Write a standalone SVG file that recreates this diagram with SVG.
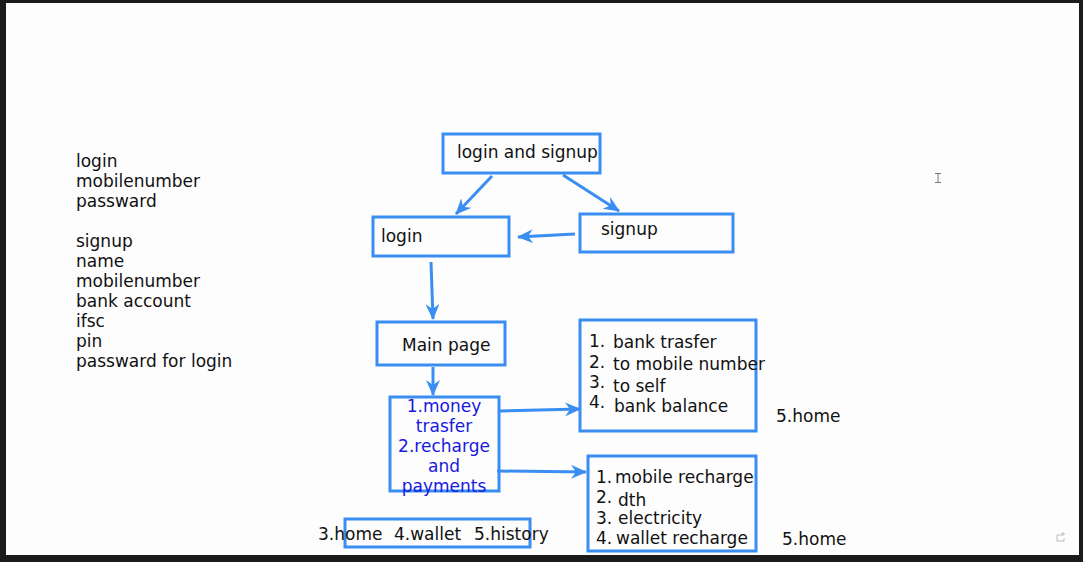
<svg xmlns="http://www.w3.org/2000/svg" width="1083" height="562" viewBox="0 0 1083 562">
<style>
.box{fill:none;stroke:#3a8ef2;stroke-width:3}
.edge{fill:none;stroke:#3a8ef2;stroke-width:3}
text{font-family:"DejaVu Sans","Liberation Sans",sans-serif;font-size:17px;fill:#111}
.blue{fill:#1818e0;text-anchor:middle}
</style>
<defs>
<marker id="arr" viewBox="0 0 16 14" markerWidth="16" markerHeight="14" refX="15" refY="7" orient="auto" markerUnits="userSpaceOnUse">
<path d="M0,0 L16,7 L0,14 L5,7 z" fill="#3a8ef2"/>
</marker>
</defs>
<rect x="0" y="0" width="1083" height="562" fill="#1b1b1b"/>
<rect x="6" y="3" width="1073" height="552" fill="#fdfdfd"/>

<g id="connectors">
<line class="edge" x1="492" y1="176" x2="456" y2="214" marker-end="url(#arr)"/>
<line class="edge" x1="563" y1="175" x2="619" y2="211" marker-end="url(#arr)"/>
<line class="edge" x1="575" y1="234" x2="518" y2="237" marker-end="url(#arr)"/>
<line class="edge" x1="431" y1="262" x2="433" y2="319" marker-end="url(#arr)"/>
<line class="edge" x1="433" y1="367" x2="433" y2="395" marker-end="url(#arr)"/>
<line class="edge" x1="500" y1="411" x2="580" y2="409" marker-end="url(#arr)"/>
<line class="edge" x1="497" y1="471" x2="586" y2="472" marker-end="url(#arr)"/>
</g>

<g id="notes">
<text x="76" y="167">login</text>
<text x="76" y="187">mobilenumber</text>
<text x="76" y="207">passward</text>
<text x="76" y="247">signup</text>
<text x="76" y="267">name</text>
<text x="76" y="287">mobilenumber</text>
<text x="76" y="307">bank account</text>
<text x="76" y="327">ifsc</text>
<text x="76" y="347">pin</text>
<text x="76" y="367">passward for login</text>
</g>

<g id="node-login-signup">
<rect class="box" x="443" y="134" width="157" height="39"/>
<text x="457" y="158">login and signup</text>
</g>

<g id="node-login">
<rect class="box" x="373" y="217" width="136" height="39"/>
<text x="381" y="242">login</text>
</g>

<g id="node-signup">
<rect class="box" x="580" y="214" width="153" height="38"/>
<text x="601" y="235">signup</text>
</g>

<g id="node-main">
<rect class="box" x="377" y="322" width="128" height="43"/>
<text x="402" y="351">Main page</text>
</g>

<g id="node-menu">
<rect class="box" x="390" y="397" width="109" height="94"/>
<text class="blue" x="444" y="412">1.money</text>
<text class="blue" x="444" y="432">trasfer</text>
<text class="blue" x="444" y="452">2.recharge</text>
<text class="blue" x="444" y="472">and</text>
<text class="blue" x="444" y="492">payments</text>
</g>

<g id="node-transfer">
<rect class="box" x="580" y="320" width="176" height="111"/>
<text x="589" y="347">1.</text><text x="613" y="348">bank trasfer</text>
<text x="589" y="368">2.</text><text x="613" y="370">to mobile number</text>
<text x="589" y="388">3.</text><text x="613" y="392">to self</text>
<text x="589" y="408">4.</text><text x="614" y="412">bank balance</text>
</g>
<text x="776" y="422">5.home</text>

<g id="node-recharge">
<rect class="box" x="588" y="456" width="168" height="95"/>
<text x="596" y="483">1.</text><text x="615" y="483">mobile recharge</text>
<text x="596" y="503">2.</text><text x="618" y="506">dth</text>
<text x="596" y="524">3.</text><text x="618" y="524">electricity</text>
<text x="596" y="544">4.</text><text x="616" y="544">wallet recharge</text>
</g>
<text x="782" y="545">5.home</text>

<g id="node-bottom">
<rect class="box" x="345" y="519" width="185" height="28"/>
<text x="318" y="540">3.home</text>
<text x="394" y="540">4.wallet</text>
<text x="474" y="540">5.history</text>
</g>

<path d="M935,173.5 h6 M938,173.5 v9 M935,182.5 h6" stroke="#777" stroke-width="1" fill="none"/>
<path d="M1062,535 h-5 v6 h7 v-3 M1063,532 v4 M1061,534 h4" stroke="#bbb" stroke-width="1" fill="none"/>
</svg>
